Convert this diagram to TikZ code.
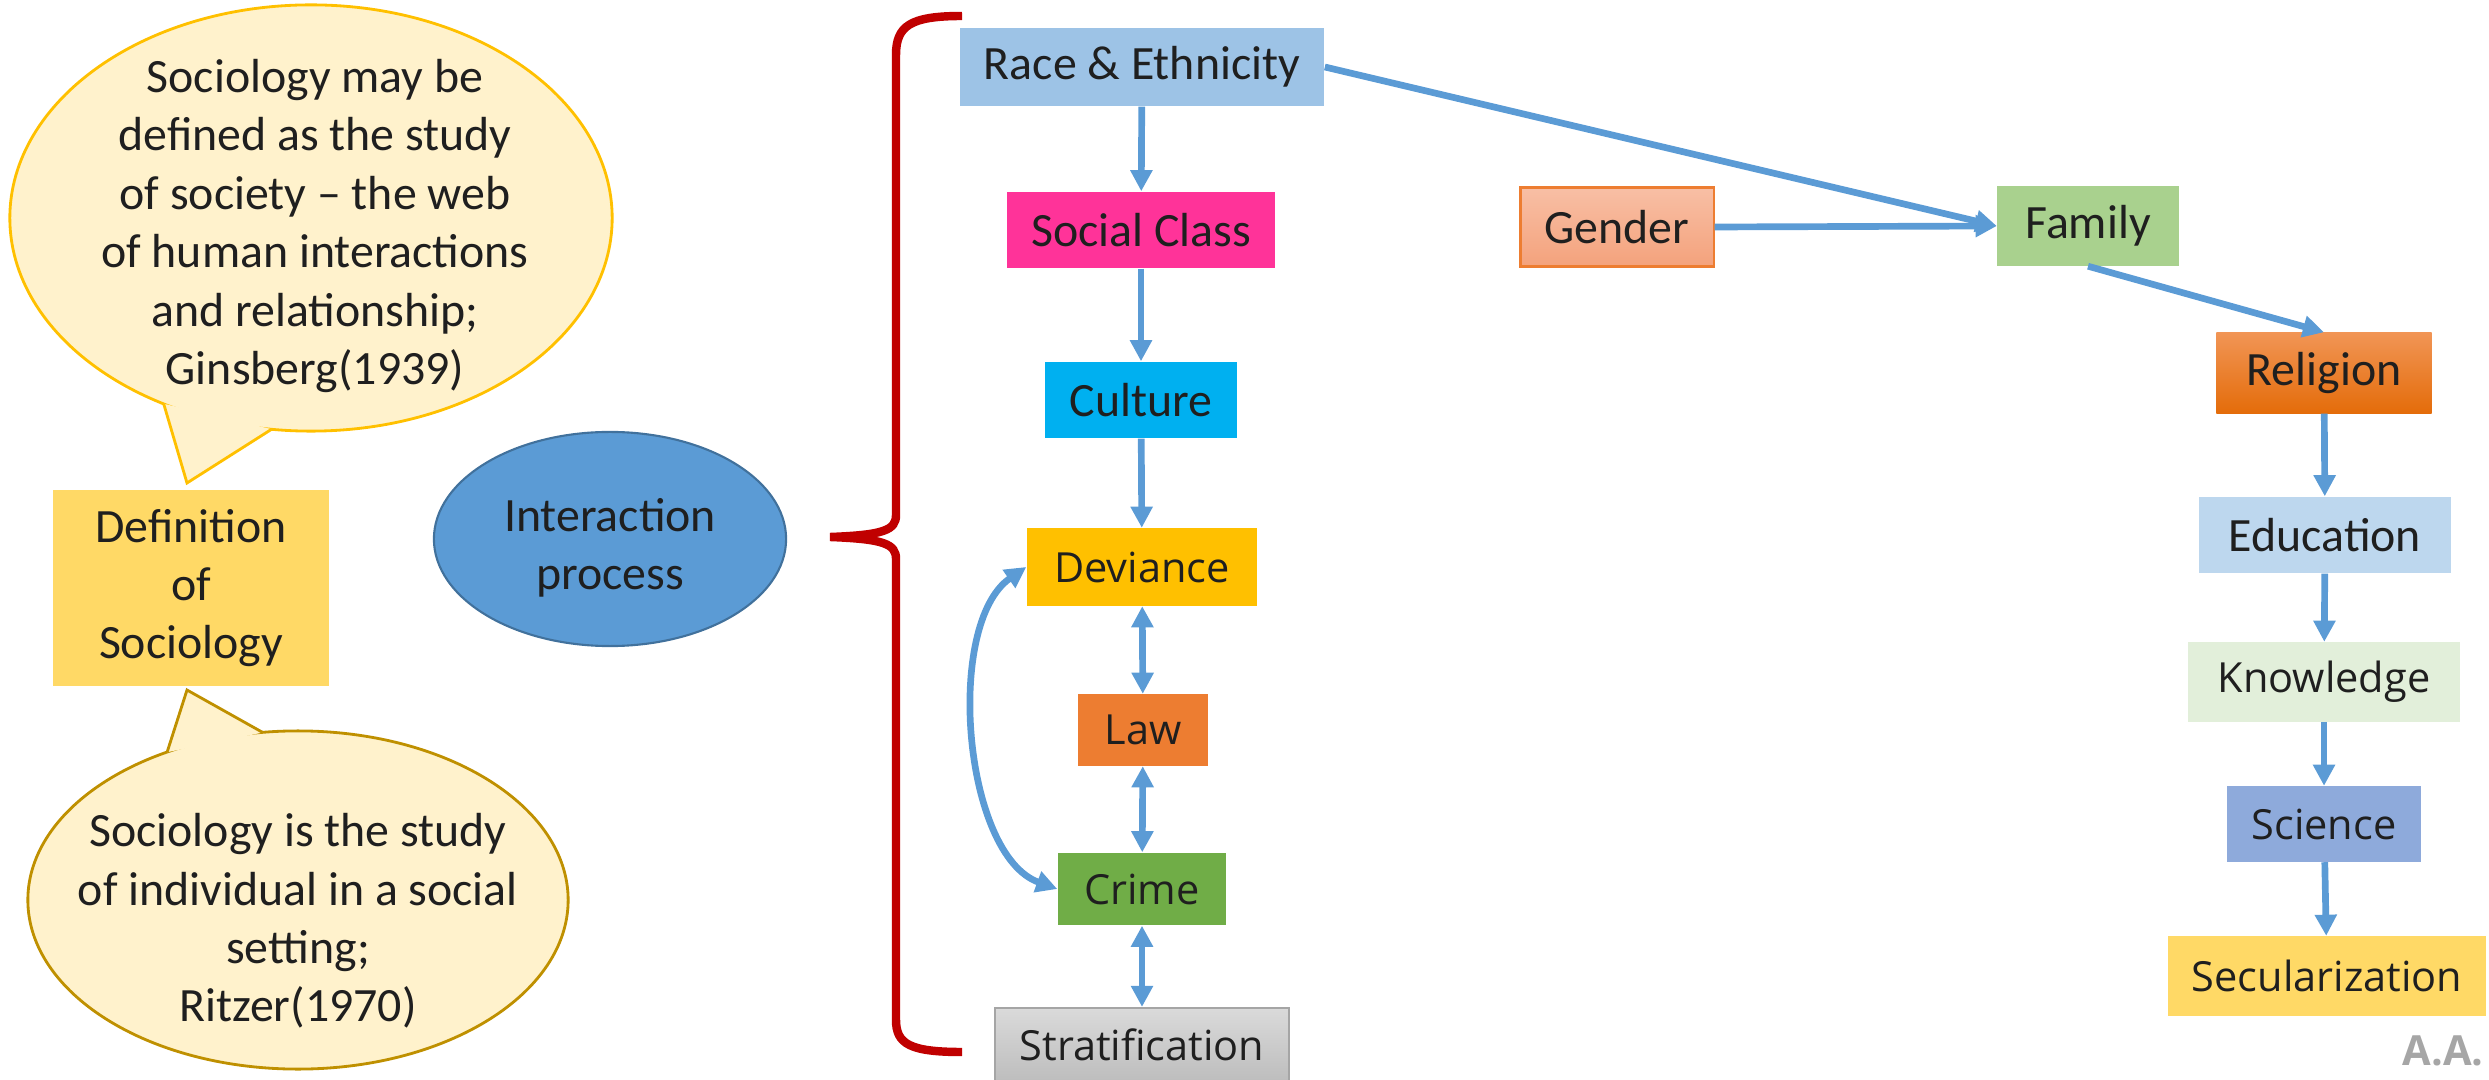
\documentclass[tikz,border=0pt]{standalone}
\usepackage{fontspec}
\setmainfont{Carlito}
\newfontfamily\segoe{Open Sans}
\usetikzlibrary{arrows.meta,shapes.geometric}
\definecolor{arrowblue}{HTML}{5B9BD5}
\definecolor{raceblue}{HTML}{9DC3E6}
\definecolor{pinkc}{HTML}{FF3399}
\definecolor{cyanc}{HTML}{00B0F0}
\definecolor{goldc}{HTML}{FFC000}
\definecolor{laworange}{HTML}{ED7D31}
\definecolor{crimegreen}{HTML}{70AD47}
\definecolor{familygreen}{HTML}{A9D18E}
\definecolor{edublue}{HTML}{BDD7EE}
\definecolor{knowgreen}{HTML}{E2EFDA}
\definecolor{scienceblue}{HTML}{8EAADB}
\definecolor{lightgold}{HTML}{FFD966}
\definecolor{bubblefill}{HTML}{FFF2CC}
\definecolor{bubbletop}{HTML}{FFC000}
\definecolor{bubblebot}{HTML}{BF9000}
\definecolor{bracketred}{HTML}{C00000}
\definecolor{txt}{HTML}{1F1F1F}
\definecolor{aagray}{HTML}{A6A6A6}
\definecolor{ellfill}{HTML}{5B9BD5}
\definecolor{elldraw}{HTML}{41719C}
\definecolor{gendtop}{HTML}{F8BFA5}
\definecolor{gendbot}{HTML}{F4A27C}
\definecolor{reltop}{HTML}{F19555}
\definecolor{relbot}{HTML}{E46C0A}
\definecolor{strattop}{HTML}{DADADA}
\definecolor{stratbot}{HTML}{BDBDBD}
\definecolor{stratdraw}{HTML}{A5A5A5}
\newcommand{\lowerdesc}[1]{\raisebox{-1.6pt}{#1}}
\begin{document}
\begin{tikzpicture}[x=0.01cm,y=-0.01cm,
  cal/.style={font=\fontsize{13.6pt}{16.6pt}\selectfont, text=txt},
  box/.style={rectangle, inner sep=0pt, cal},
  sbox/.style={rectangle, inner sep=0pt, text=txt, font=\segoe\fontsize{11.8pt}{14pt}\selectfont},
  arr/.style={draw=arrowblue, line width=1.9pt, -{Triangle[width=6pt,length=6pt]}},
  darr/.style={draw=arrowblue, line width=1.9pt, {Triangle[width=6pt,length=6pt]}-{Triangle[width=6pt,length=6pt]}},
  bubbletext/.style={cal, align=center}
]
\useasboundingbox (0,0) rectangle (2489,1080);

% top speech bubble
\filldraw[fill=bubblefill, draw=bubbletop, line width=0.8pt] (311,218) ellipse [x radius=3.01cm, y radius=2.13cm];
\fill[bubblefill] (163.7,403.8) -- (187,483) -- (271.7,429.2) -- cycle;
\draw[bubbletop, line width=0.8pt, line join=miter] (163.7,403.8) -- (187,483) -- (271.7,429.2);
\node[bubbletext] (bubtop) at (315,226) {Sociology may be\\defined as the study\\of society -- the web\\of human interactions\\and relationship;\\Ginsberg(1939)};

% bottom speech bubble
\filldraw[fill=bubblefill, draw=bubblebot, line width=0.8pt] (298,900) ellipse [x radius=2.70cm, y radius=1.69cm];
\fill[bubblefill] (167.1,752.2) -- (187,690) -- (262.8,732.5) -- cycle;
\draw[bubblebot, line width=0.8pt, line join=miter] (167.1,752.2) -- (187,690) -- (262.8,732.5);
\node[bubbletext] (bubbot) at (298,921) {Sociology is the study\\of individual in a social\\setting;\\Ritzer(1970)};

% definition box
\node[box, fill=lightgold, minimum width=2.76cm, minimum height=1.95cm, align=center] (defn) at (191,588) {Definition\\of\\Sociology};

% interaction ellipse
\node[ellipse, fill=ellfill, draw=elldraw, line width=0.6pt, minimum width=3.52cm, minimum height=2.14cm, inner sep=0pt] (inter) at (610,539) {};
\node[cal, align=center] (intertext) at (610,548) {Interaction\\process};

% bracket
\draw[bracketred, line width=2.4pt] (962,16) .. controls (910,16) and (896,26) .. (896,55) -- (896,515) .. controls (896,530) and (884,535) .. (830,537) .. controls (884,539) and (896,544) .. (896,559) -- (896,1020) .. controls (896,1044) and (910,1052) .. (962,1052);

% left column
\node[box, fill=raceblue, minimum width=3.64cm, minimum height=0.78cm] (race) at (1142,67) {\lowerdesc{Race \& Ethnicity}};
\node[box, fill=pinkc, minimum width=2.68cm, minimum height=0.76cm] (social) at (1141,230) {Social Class};
\node[box, fill=cyanc, minimum width=1.92cm, minimum height=0.76cm] (culture) at (1141,400) {Culture};
\node[sbox, fill=goldc, minimum width=2.30cm, minimum height=0.77cm] (dev) at (1142,567) {Deviance};
\node[sbox, fill=laworange, minimum width=1.30cm, minimum height=0.71cm] (law) at (1143,730) {Law};
\node[sbox, fill=crimegreen, minimum width=1.68cm, minimum height=0.72cm] (crime) at (1142,889) {Crime};
\node[sbox, draw=stratdraw, line width=0.6pt, top color=strattop, bottom color=stratbot, minimum width=2.93cm, minimum height=0.74cm] (strat) at (1142,1045) {Stratification};

% right part
\node[box, draw=laworange, line width=0.6pt, top color=gendtop, bottom color=gendbot, minimum width=1.93cm, minimum height=0.79cm] (gender) at (1617,227) {Gender};
\node[box, fill=familygreen, minimum width=1.81cm, minimum height=0.79cm] (family) at (2088,226) {\lowerdesc{Family}};
\node[box, top color=reltop, bottom color=relbot, minimum width=2.15cm, minimum height=0.80cm] (religion) at (2324,373) {\lowerdesc{Religion}};
\node[box, fill=edublue, minimum width=2.51cm, minimum height=0.76cm] (education) at (2325,535) {Education};
\node[sbox, fill=knowgreen, minimum width=2.71cm, minimum height=0.79cm] (knowledge) at (2324,682) {\lowerdesc{Knowledge}};
\node[sbox, fill=scienceblue, minimum width=1.93cm, minimum height=0.75cm] (science) at (2324,824) {Science};
\node[sbox, fill=lightgold, minimum width=3.18cm, minimum height=0.79cm] (secular) at (2327,976) {Secularization};

\node[text=aagray, font=\segoe\bfseries\fontsize{11.8pt}{14pt}\selectfont, inner sep=0pt] (aa) at (2443,1051) {A.A.};

% connectors
\draw[arr] (race) -- (social);
\draw[arr] (social) -- (culture);
\draw[arr] (culture) -- (dev);
\draw[darr] (dev) -- (law);
\draw[darr] (law) -- (crime);
\draw[darr] (crime) -- (strat);
\draw[darr] (dev.west) .. controls +(-82,57) and +(-94,-34) .. (crime.west);
\draw[arr] (race.east) -- (family.west);
\draw[arr] (gender.east) -- (family.west);
\draw[arr] (family.south) -- (religion.north);
\draw[arr] (religion) -- (education);
\draw[arr] (education) -- (knowledge);
\draw[arr] (knowledge) -- (science);
\draw[arr] (science) -- (secular);
\end{tikzpicture}
\end{document}
